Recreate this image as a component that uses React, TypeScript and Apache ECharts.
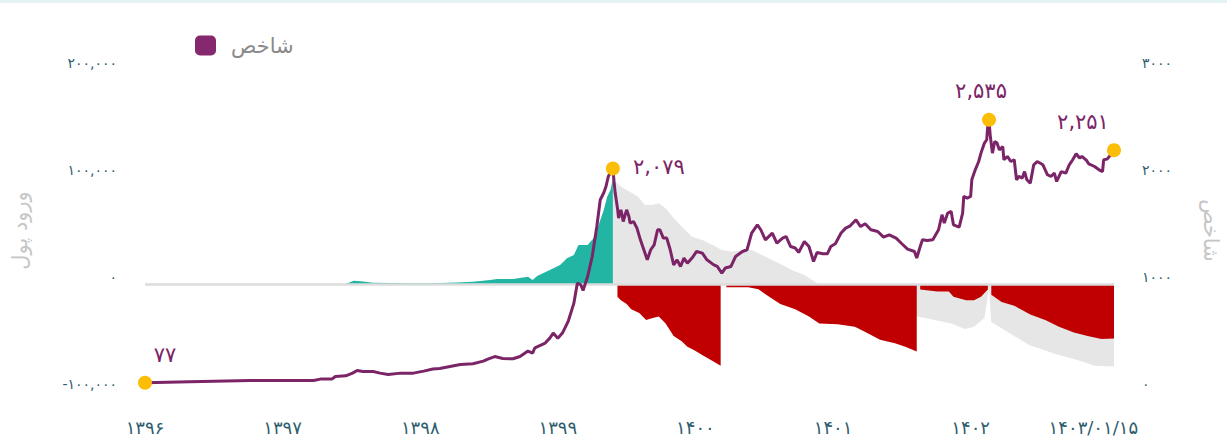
import React, { useEffect, useRef } from 'react';
import * as echarts from 'echarts';

// x values are months since 1396/01/01
const xTickValues = [0, 12, 24, 36, 48, 60, 72, 82.7];
const xTickLabels = ['1396', '1397', '1398', '1399', '1400', '1401', '1402', '1403/01/15'];

// index (شاخص) – right axis
const indexMonths = [
  0, 3.9, 9.2, 14.7, 15.3, 16.3, 16.6, 17.5, 18.1, 18.5, 19.0, 19.9, 20.5, 21.2, 22.3, 23.4, 24.3, 25.1, 25.7, 26.6,
  27.5, 28.6, 29.5, 29.9, 30.5, 31.2, 32.1, 32.7, 33.4, 33.8, 34.0, 34.9, 35.3, 35.6, 36.0, 36.4, 36.9, 37.4, 37.7, 38.0,
  38.2, 38.6, 39.0, 39.4, 39.7, 40.0, 40.2, 40.4, 40.8,
  40.9, 41.0, 41.2, 41.3, 41.5, 41.6, 41.7, 42.0, 42.2, 42.3, 42.6, 42.9, 43.2, 43.5, 43.8, 44.1, 44.4, 44.7, 44.9, 45.2,
  45.5, 45.8, 46.1, 46.4, 46.7, 47.0, 47.3, 47.7, 48.1, 48.6, 49.0, 49.6, 49.9, 50.3, 50.6, 51.1, 51.5, 52.1, 52.5, 52.9,
  53.4, 53.7, 54.1, 54.7, 55.1, 55.6, 55.9, 56.3, 56.7, 57.0, 57.5, 57.9, 58.3, 58.6, 59.1, 59.5, 59.8, 60.2, 60.7, 61.1,
  61.5, 62.0, 62.4, 62.8, 63.3, 63.9, 64.4, 64.9, 65.5, 66.0, 66.5, 67.1, 67.3, 67.6, 67.8, 68.2, 68.7, 68.9, 69.2, 69.5,
  69.7, 70.0, 70.3, 70.5, 71.0, 71.3, 71.4, 71.7, 72.0, 72.1, 72.4, 72.7, 72.9, 73.2, 73.4, 73.5, 73.6, 73.7, 73.9, 74.1,
  74.3, 74.5, 74.8, 74.9, 75.2, 75.5, 75.8, 76.0, 76.2, 76.5, 76.7, 76.9, 77.2, 77.5, 77.8, 78.3, 78.7, 79.0, 79.3, 79.5,
  79.9, 80.3, 80.6, 80.9, 81.2, 81.5, 81.7, 82.1, 82.3, 82.8, 83.2, 83.5, 83.6, 83.9, 84.2, 84.5,
];
const indexValues = [
  77, 86, 98, 98, 111, 111, 136, 142, 167, 192, 182, 182, 167, 154, 167, 167, 186, 205, 210, 229,
  248, 254, 279, 298, 322, 304, 301, 322, 373, 354, 404, 448, 494, 541, 494, 541, 650, 821, 1008, 993,
  940, 1070, 1257, 1537, 1787, 1850, 1911, 2005, 2079,
  1958, 1852, 1709, 1616, 1693, 1647, 1584, 1693, 1631, 1569, 1584, 1522, 1413, 1320, 1226, 1320, 1366, 1507, 1507, 1429,
  1429, 1320, 1179, 1226, 1164, 1242, 1195, 1242, 1304, 1289, 1226, 1179, 1164, 1102, 1149, 1164, 1257, 1304, 1320, 1476,
  1553, 1507, 1413, 1476, 1382, 1429, 1444, 1350, 1336, 1295, 1397, 1350, 1210, 1294, 1282, 1282, 1350, 1376, 1476, 1522,
  1544, 1600, 1537, 1563, 1507, 1491, 1438, 1460, 1429, 1376, 1326, 1304, 1242, 1350, 1413, 1407, 1413, 1450, 1507, 1647,
  1569, 1663, 1678, 1553, 1532, 1663, 1818, 1803, 1818, 1974, 2067, 2145, 2223, 2317, 2348, 2488, 2535, 2394, 2223, 2332,
  2317, 2254, 2285, 2161, 2192, 2145, 2161, 1974, 2005, 1990, 2051, 1974, 1943, 2114, 2145, 2114, 2021, 2005, 2036, 1958,
  2051, 2036, 2114, 2161, 2217, 2177, 2192, 2155, 2123, 2098, 2067, 2051, 2161, 2167, 2207, 2251,
];

// highlighted index points
const markMonths = [0, 40.8, 73.6, 84.5];
const markValues = [77, 2079, 2535, 2251];

// money inflow (ورود پول) – left axis
const tealMonths = [17.5, 18.2, 18.8, 19.9, 22.9, 25.1, 27.2, 28.6, 30.1, 30.7, 32.1, 33.4, 33.8, 34.2, 35.3, 36.2, 36.8, 37.4, 37.8, 38.6, 39.1, 39.5, 40.0, 40.3, 40.6, 40.8];
const tealValues = [0, 3000, 2500, 1200, 600, 600, 1500, 2000, 3700, 4600, 4600, 6800, 3700, 7500, 13000, 17800, 24000, 27000, 36400, 36400, 42500, 53600, 69000, 81600, 88000, 98800];

const greyMonths = [
  40.8, 41.3, 41.9, 42.5, 43.0, 43.6, 44.2, 44.8, 45.4, 46.0, 46.8, 47.7, 48.6, 49.5, 50.3, 51.2, 52.1, 52.9, 53.8, 54.7,
  55.6, 56.4, 57.5, 58.6, 59.8, 62.4, 65.0, 67.2, 67.4, 70.3, 71.5, 72.3, 73.2, 73.6, 73.8, 75.8, 77.1, 79.4, 81.6, 82.8, 84.5,
];
const greyValues = [
  99000, 92500, 88500, 84800, 81600, 73800, 73800, 75400, 70700, 62900, 53600, 44200, 41100, 36400, 31800, 30200, 31800, 31800, 27100, 22400,
  17800, 13100, 8400, 1000, -4000, -12000, -22000, -29000, -30300, -37000, -42000, -40000, -31800, -3700, -35500, -48600, -57000, -65400, -72000, -76400, -77000,
];

const red1Months = [41.2, 41.5, 42.0, 42.4, 43.1, 43.7, 44.2, 44.8, 45.4, 46.1, 46.8, 47.3, 47.9, 48.7, 49.5, 50.2];
const red1Values = [-12000, -15300, -18700, -23600, -27000, -33600, -32000, -30300, -37000, -48600, -53600, -58700, -62000, -67000, -72000, -76400];
const red2Months = [50.7, 52.6, 53.5, 54.2, 55.4, 56.7, 57.9, 58.8, 60.4, 61.9, 62.9, 64.1, 65.4, 66.3, 67.3];
const red2Values = [-3000, -3000, -5000, -10300, -18700, -23600, -30300, -37000, -37700, -40000, -45300, -52000, -55300, -58700, -63000];
const red3Months = [67.6, 69.1, 70.1, 70.5, 71.6, 72.3, 72.9, 73.5];
const red3Values = [-5200, -7000, -7000, -12000, -15300, -15300, -12000, -5200];
const red4Months = [73.8, 74.7, 75.8, 77.2, 78.5, 79.7, 81.0, 82.2, 83.4, 84.5];
const red4Values = [-10000, -16800, -20300, -28600, -33600, -40000, -45300, -48600, -51400, -51000];

const FA = '۰۱۲۳۴۵۶۷۸۹';
const toFa = (s: string) => s.replace(/[0-9]/g, (d) => FA[+d]);
const zip = (xs: number[], ys: number[]) => xs.map((x, i) => [x, ys[i]]);

const FONT = 'DejaVu Sans';
const AXIS_COLOR = '#2e5d6e';

const labelOffsets = [[20, -28], [46, -2], [-8, -29], [-31, -28]];

function areaSeries(data: number[][], color: string, extra: any = {}) {
  return {
    type: 'line',
    yAxisIndex: 0,
    data,
    showSymbol: false,
    symbol: 'none',
    silent: true,
    lineStyle: { width: 0, color },
    itemStyle: { color },
    areaStyle: { color, opacity: 1 },
    ...extra,
  };
}

export default function App() {
  const ref = useRef<HTMLDivElement>(null);
  useEffect(() => {
    const chart = echarts.init(ref.current!, null, { renderer: 'svg' });
    chart.setOption({
      animation: false,
      backgroundColor: '#ffffff',
      textStyle: { fontFamily: FONT },
      graphic: [
        { type: 'rect', left: 0, top: 0, shape: { width: 1227, height: 3 }, style: { fill: '#e4f2f5' } },
      ],
      legend: {
        data: ['شاخص'],
        left: 190,
        top: 30,
        icon: 'roundRect',
        itemWidth: 21,
        itemHeight: 20,
        textStyle: { fontSize: 21, color: '#8a8a8a', fontFamily: FONT, padding: [0, 0, 0, 10] },
      },
      grid: { left: 145, right: 113, top: 70, bottom: 56, containLabel: false, outerBoundsMode: 'none' },
      xAxis: {
        type: 'value',
        min: 0,
        max: 84.5,
        axisLine: { show: false },
        axisTick: { show: false },
        splitLine: { show: false },
        axisLabel: {
          customValues: xTickValues,
          margin: 27,
          fontSize: 18,
          color: AXIS_COLOR,
          fontFamily: FONT,
          formatter: (v: number) => {
            const i = xTickValues.findIndex((t) => Math.abs(t - v) < 0.01);
            return i >= 0 ? toFa(xTickLabels[i]) : '';
          },
        },
      },
      yAxis: [
        {
          type: 'value',
          min: -100000,
          max: 200000,
          interval: 100000,
          position: 'left',
          name: 'ورود پول',
          nameLocation: 'middle',
          nameRotate: 90,
          nameGap: 115,
          nameTextStyle: { fontSize: 21, color: '#c6c6c6', fontFamily: FONT },
          axisLine: { show: false },
          axisTick: { show: false },
          splitLine: { show: false },
          axisLabel: {
            margin: 28,
            fontSize: 14,
            color: AXIS_COLOR,
            fontFamily: FONT,
            verticalAlign: 'bottom',
            formatter: (v: number) => toFa(v.toLocaleString('en-US')),
          },
        },
        {
          type: 'value',
          min: 0,
          max: 3000,
          interval: 1000,
          position: 'right',
          name: 'شاخص',
          nameLocation: 'middle',
          nameRotate: -90,
          nameGap: 86,
          nameTextStyle: { fontSize: 21, color: '#c6c6c6', fontFamily: FONT },
          axisLine: { show: false },
          axisTick: { show: false },
          splitLine: { show: false },
          axisLabel: {
            margin: 28,
            fontSize: 14,
            color: AXIS_COLOR,
            fontFamily: FONT,
            verticalAlign: 'bottom',
            formatter: (v: number) => toFa(String(v)),
          },
        },
      ],
      series: [
        areaSeries(zip(greyMonths, greyValues), '#e6e6e6', { name: 'grey' }),
        areaSeries(zip(red1Months, red1Values), '#c00000', { name: 'red1' }),
        areaSeries(zip(red2Months, red2Values), '#c00000', { name: 'red2' }),
        areaSeries(zip(red3Months, red3Values), '#c00000', { name: 'red3' }),
        areaSeries(zip(red4Months, red4Values), '#c00000', { name: 'red4' }),
        areaSeries(zip(tealMonths, tealValues), '#22b5a3', {
          name: 'teal',
          markLine: {
            silent: true,
            symbol: 'none',
            label: { show: false },
            lineStyle: { color: '#dcdcdc', width: 2.5, type: 'solid' },
            data: [{ yAxis: 0 }],
          },
        }),
        {
          name: 'شاخص',
          type: 'line',
          yAxisIndex: 1,
          data: zip(indexMonths, indexValues),
          showSymbol: false,
          symbol: 'none',
          lineStyle: { color: '#7b2467', width: 3 },
          itemStyle: { color: '#86286e' },
          z: 5,
        },
        {
          name: 'marks',
          type: 'scatter',
          yAxisIndex: 1,
          symbolSize: 14,
          z: 6,
          itemStyle: { color: '#fcbd07', opacity: 1 },
          data: markMonths.map((m, i) => ({
            value: [m, markValues[i]],
            label: {
              show: true,
              position: 'inside',
              offset: labelOffsets[i],
              formatter: toFa(markValues[i].toLocaleString('en-US')),
              fontSize: 21,
              color: '#7b2467',
              fontFamily: FONT,
            },
          })),
        },
      ],
    });
    return () => chart.dispose();
  }, []);
  return (
    <div
      ref={ref}
      style={{ position: 'fixed', left: 0, top: 0, width: 1227, height: 447, background: '#fff' }}
    />
  );
}
